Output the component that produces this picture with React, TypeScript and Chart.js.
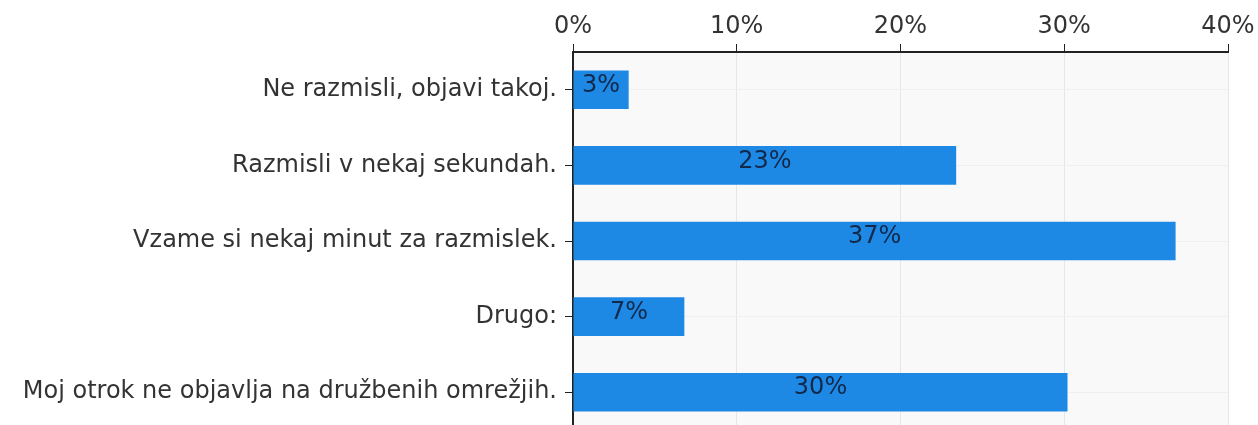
import React, { useEffect, useRef } from "react";
import { Chart, registerables } from "chart.js";

Chart.register(...registerables);

const categories = [
  "Ne razmisli, objavi takoj.",
  "Razmisli v nekaj sekundah.",
  "Vzame si nekaj minut za razmislek.",
  "Drugo:",
  "Moj otrok ne objavlja na družbenih omrežjih.",
];
const values = [3.4, 23.4, 36.8, 6.8, 30.2];
const xTicks = [0, 10, 20, 30, 40];

const FONT = "'DejaVu Sans', Verdana, sans-serif";

const bgPlugin = {
  id: "plotBg",
  beforeDraw(chart: any) {
    const { ctx, chartArea } = chart;
    ctx.save();
    ctx.fillStyle = "#f9f9f9";
    ctx.fillRect(chartArea.left, chartArea.top, chartArea.right - chartArea.left, chartArea.bottom - chartArea.top);
    ctx.restore();
  },
};

const labelPlugin = {
  id: "barLabels",
  afterDatasetsDraw(chart: any) {
    const { ctx } = chart;
    const meta = chart.getDatasetMeta(0);
    ctx.save();
    ctx.font = `24px ${FONT}`;
    ctx.fillStyle = "#13294a";
    ctx.textAlign = "center";
    ctx.textBaseline = "middle";
    meta.data.forEach((bar: any, i: number) => {
      const cx = (bar.x + bar.base) / 2;
      ctx.fillText(Math.round(values[i]) + "%", cx, bar.y - 4);
    });
    ctx.restore();
  },
};

export default function App() {
  const ref = useRef<HTMLCanvasElement | null>(null);
  useEffect(() => {
    if (!ref.current) return;
    const chart = new Chart(ref.current, {
      type: "bar",
      data: {
        labels: categories,
        datasets: [
          {
            data: values,
            backgroundColor: "#1e88e5",
            borderWidth: 0,
            categoryPercentage: 1,
            barPercentage: 0.51,
          },
        ],
      },
      options: {
        indexAxis: "y",
        animation: false,
        responsive: false,
        maintainAspectRatio: false,
        layout: { padding: { left: 0, right: 30, top: 0, bottom: 0 } },
        plugins: { legend: { display: false }, tooltip: { enabled: false } },
        scales: {
          x: {
            position: "top",
            min: 0,
            max: 40,
            afterBuildTicks(scale: any) {
              scale.ticks = xTicks.map((v) => ({ value: v }));
            },
            afterFit(scale: any) {
              scale.height = 52;
            },
            ticks: {
              font: { family: FONT, size: 24 },
              color: "#333",
              padding: 3,
              callback: (v: any) => v + "%",
            },
            grid: { color: "#e6e6e6", tickColor: "#222", tickLength: 8, lineWidth: 1 },
            border: { color: "#222", width: 2 },
          },
          y: {
            afterFit(scale: any) {
              scale.width = 573;
              scale.paddingTop = 0;
              scale.paddingBottom = 0;
            },
            ticks: {
              font: { family: FONT, size: 24 },
              color: "#333",
              padding: 8,
            },
            grid: { color: "#f0f0f0", tickColor: "#222", tickLength: 8, offset: false },
            border: { color: "#222", width: 2 },
          },
        },
      },
      plugins: [bgPlugin, labelPlugin],
    } as any);
    return () => chart.destroy();
  }, []);
  return (
    <div style={{ position: "fixed", top: 0, left: 0, width: 1258, height: 425, overflow: "hidden", background: "#fff" }}>
      <canvas ref={ref} width={1258} height={430} style={{ display: "block" }} />
    </div>
  );
}
